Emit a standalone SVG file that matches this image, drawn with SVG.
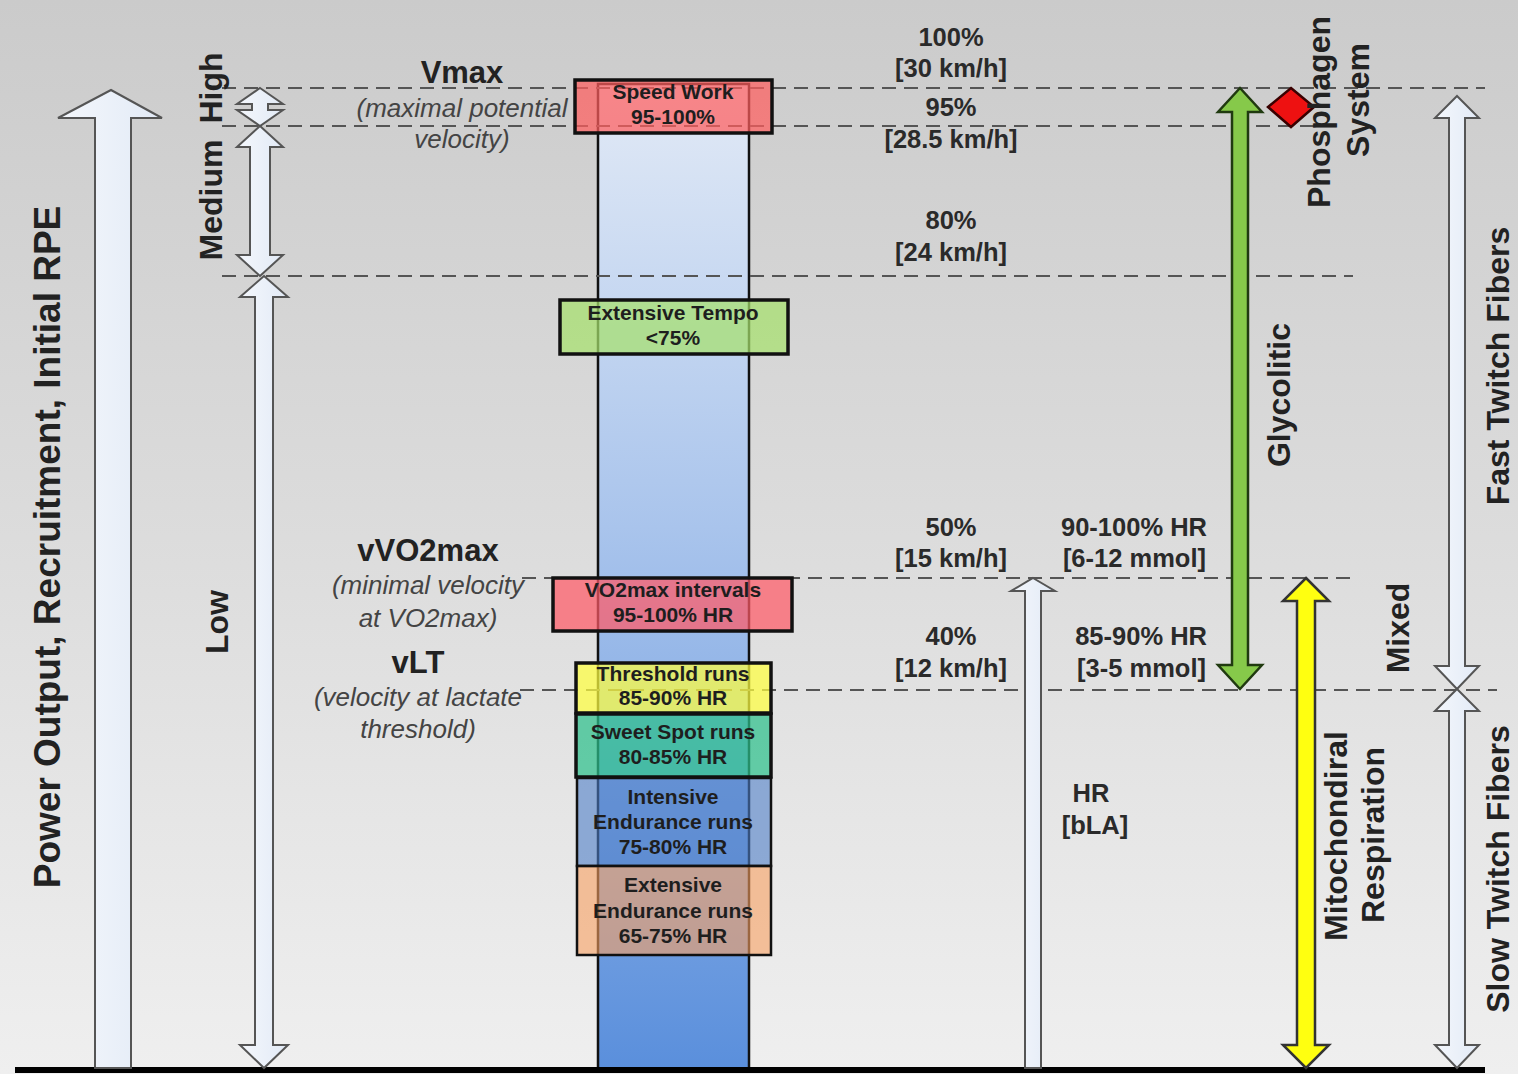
<svg xmlns="http://www.w3.org/2000/svg" width="1518" height="1074" viewBox="0 0 1518 1074">
<defs>
<linearGradient id="bg" x1="0" y1="0" x2="0" y2="1">
<stop offset="0" stop-color="#cbcbcb"/>
<stop offset="0.5" stop-color="#dcdcdc"/>
<stop offset="1" stop-color="#efefef"/>
</linearGradient>
<linearGradient id="col" x1="0" y1="0" x2="0" y2="1">
<stop offset="0" stop-color="#e2eaf6"/>
<stop offset="0.45" stop-color="#a9c4ec"/>
<stop offset="1" stop-color="#5a8fdc"/>
</linearGradient>
<linearGradient id="wh" x1="0" y1="0" x2="1" y2="0">
<stop offset="0" stop-color="#f4f7fc"/>
<stop offset="1" stop-color="#e2eaf6"/>
</linearGradient>
<style>
.dash{stroke:#555;stroke-width:2;stroke-dasharray:14 8;fill:none}
.warr{fill:url(#wh);stroke:#555;stroke-width:2;stroke-linejoin:miter}
.box{stroke:#111;stroke-width:3.5}
.bt{font-family:"Liberation Sans",Arial,sans-serif;font-weight:bold;font-size:21px;fill:#1e1e1e;text-anchor:middle}
.pc{font-family:"Liberation Sans",Arial,sans-serif;font-weight:bold;font-size:25.5px;fill:#2a2a2a;text-anchor:middle}
.hr{font-family:"Liberation Sans",Arial,sans-serif;font-weight:bold;font-size:25.5px;fill:#2a2a2a;text-anchor:end}
.big{font-family:"Liberation Sans",Arial,sans-serif;font-weight:bold;font-size:31px;fill:#222;text-anchor:middle}
.it{font-family:"Liberation Sans",Arial,sans-serif;font-style:italic;font-size:26px;fill:#444;text-anchor:middle}
.rot{font-family:"Liberation Sans",Arial,sans-serif;font-weight:bold;font-size:32px;fill:#222;text-anchor:middle}
</style>
</defs>
<rect x="0" y="0" width="1518" height="1074" fill="url(#bg)"/>

<g id="column">
<rect x="598" y="84" width="151" height="986" fill="url(#col)" stroke="#111" stroke-width="2.5"/>
</g>

<g id="connectors">
<line class="dash" x1="222" y1="88" x2="1485" y2="88"/>
<line class="dash" x1="222" y1="126" x2="1330" y2="126"/>
<line class="dash" x1="222" y1="276" x2="1353" y2="276"/>
<line class="dash" x1="522" y1="578" x2="1355" y2="578"/>
<line class="dash" x1="520" y1="690" x2="1497" y2="690"/>
<line x1="15" y1="1070" x2="1485" y2="1070" stroke="#000" stroke-width="6"/>
</g>

<g id="arrow-power">
<polygon class="warr" points="111,90 162,118 131,118 131,1068 95,1068 95,118 58,118"/>
</g>
<g id="arrow-high">
<polygon class="warr" points="260,88 283,104 268,104 268,110 283,110 260,126 237,110 252,110 252,104 237,104"/>
</g>
<g id="arrow-medium">
<polygon class="warr" points="260,126 283,147 270,147 270,255 283,255 260,276 237,255 250,255 250,147 237,147"/>
</g>
<g id="arrow-low">
<polygon class="warr" points="264,276 288,297 273,297 273,1045 288,1045 264,1068 240,1045 255,1045 255,297 240,297"/>
</g>
<g id="arrow-hr">
<polygon class="warr" points="1033,578 1055,591 1041,591 1041,1068 1025,1068 1025,591 1011,591"/>
</g>
<g id="arrow-glycolitic">
<polygon points="1240,88 1262,112 1248,112 1248,665 1262,665 1240,689 1218,665 1232,665 1232,112 1218,112" fill="#86c94a" stroke="#203a10" stroke-width="2.5"/>
</g>
<g id="arrow-mito">
<polygon points="1306,578 1329,601 1315,601 1315,1045 1329,1045 1306,1068 1283,1045 1297,1045 1297,601 1283,601" fill="#ffff10" stroke="#333" stroke-width="2.5"/>
</g>
<g id="arrow-fast">
<polygon class="warr" points="1457,96 1479,118 1465,118 1465,666 1479,666 1457,689 1435,666 1449,666 1449,118 1435,118"/>
</g>
<g id="arrow-slow">
<polygon class="warr" points="1457,689 1479,711 1465,711 1465,1045 1479,1045 1457,1068 1435,1045 1449,1045 1449,711 1435,711"/>
</g>
<g id="phosphagen-marker">
<polygon points="1291,88 1314,107 1291,127 1268,107" fill="#ee1111" stroke="#3a0000" stroke-width="2.5"/>
</g>

<g id="box-speed">
<rect class="box" x="575" y="80" width="197" height="53" fill="#ff5e5e" fill-opacity="0.72"/>
<text class="bt" x="673" y="99">Speed Work</text>
<text class="bt" x="673" y="124">95-100%</text>
</g>
<g id="box-tempo">
<rect class="box" x="560" y="300" width="228" height="54" fill="#a6e06c" fill-opacity="0.72"/>
<text class="bt" x="673" y="320">Extensive Tempo</text>
<text class="bt" x="673" y="345">&lt;75%</text>
</g>
<g id="box-vo2">
<rect class="box" x="553" y="578" width="239" height="53" fill="#ff5a66" fill-opacity="0.72"/>
<text class="bt" x="673" y="597">VO2max intervals</text>
<text class="bt" x="673" y="622">95-100% HR</text>
</g>
<g id="box-threshold">
<rect class="box" x="576" y="663" width="195" height="50" fill="#ffff40" fill-opacity="0.72"/>
<text class="bt" x="673" y="681">Threshold runs</text>
<text class="bt" x="673" y="705">85-90% HR</text>
</g>
<g id="box-sweet">
<rect class="box" x="576" y="714" width="195" height="63" fill="#2ec08c" fill-opacity="0.72"/>
<text class="bt" x="673" y="739">Sweet Spot runs</text>
<text class="bt" x="673" y="764">80-85% HR</text>
</g>
<g id="box-intensive">
<rect x="577" y="778" width="194" height="88" fill="#4f7fc8" fill-opacity="0.6" stroke="#111" stroke-width="2.5"/>
<text class="bt" x="673" y="804">Intensive</text>
<text class="bt" x="673" y="829">Endurance runs</text>
<text class="bt" x="673" y="854">75-80% HR</text>
</g>
<g id="box-extensive">
<rect x="577" y="866" width="194" height="89" fill="#f8a060" fill-opacity="0.6" stroke="#111" stroke-width="2.5"/>
<text class="bt" x="673" y="892">Extensive</text>
<text class="bt" x="673" y="918">Endurance runs</text>
<text class="bt" x="673" y="943">65-75% HR</text>
</g>

<g id="labels-left">
<text class="big" x="462" y="83">Vmax</text>
<text class="it" x="462" y="117">(maximal potential</text>
<text class="it" x="462" y="148">velocity)</text>
<text class="big" x="428" y="561">vVO2max</text>
<text class="it" x="428" y="594">(minimal velocity</text>
<text class="it" x="428" y="627">at VO2max)</text>
<text class="big" x="418" y="673">vLT</text>
<text class="it" x="418" y="706">(velocity at lactate</text>
<text class="it" x="418" y="738">threshold)</text>
</g>

<g id="labels-pct">
<text class="pc" x="951" y="46">100%</text>
<text class="pc" x="951" y="77">[30 km/h]</text>
<text class="pc" x="951" y="116">95%</text>
<text class="pc" x="951" y="148">[28.5 km/h]</text>
<text class="pc" x="951" y="229">80%</text>
<text class="pc" x="951" y="261">[24 km/h]</text>
<text class="pc" x="951" y="536">50%</text>
<text class="pc" x="951" y="567">[15 km/h]</text>
<text class="pc" x="951" y="645">40%</text>
<text class="pc" x="951" y="677">[12 km/h]</text>
<text class="hr" x="1207" y="536">90-100% HR</text>
<text class="hr" x="1206" y="567">[6-12 mmol]</text>
<text class="hr" x="1207" y="645">85-90% HR</text>
<text class="hr" x="1206" y="677">[3-5 mmol]</text>
<text class="pc" x="1091" y="802">HR</text>
<text class="pc" x="1095" y="834">[bLA]</text>
</g>

<g id="labels-rotated">
<text class="rot" style="font-size:37px" transform="translate(60,547) rotate(-90)">Power Output, Recruitment, Initial RPE</text>
<text class="rot" transform="translate(222,88) rotate(-90)">High</text>
<text class="rot" transform="translate(222,200) rotate(-90)">Medium</text>
<text class="rot" transform="translate(228,622) rotate(-90)">Low</text>
<text class="rot" transform="translate(1290,395) rotate(-90)">Glycolitic</text>
<text class="rot" transform="translate(1330,112) rotate(-90)">Phosphagen</text>
<text class="rot" transform="translate(1369,100) rotate(-90)">System</text>
<text class="rot" transform="translate(1509,366) rotate(-90)">Fast Twitch Fibers</text>
<text class="rot" transform="translate(1409,628) rotate(-90)">Mixed</text>
<text class="rot" transform="translate(1347,836) rotate(-90)">Mitochondiral</text>
<text class="rot" transform="translate(1384,835) rotate(-90)">Respiration</text>
<text class="rot" transform="translate(1509,869) rotate(-90)">Slow Twitch Fibers</text>
</g>
</svg>
